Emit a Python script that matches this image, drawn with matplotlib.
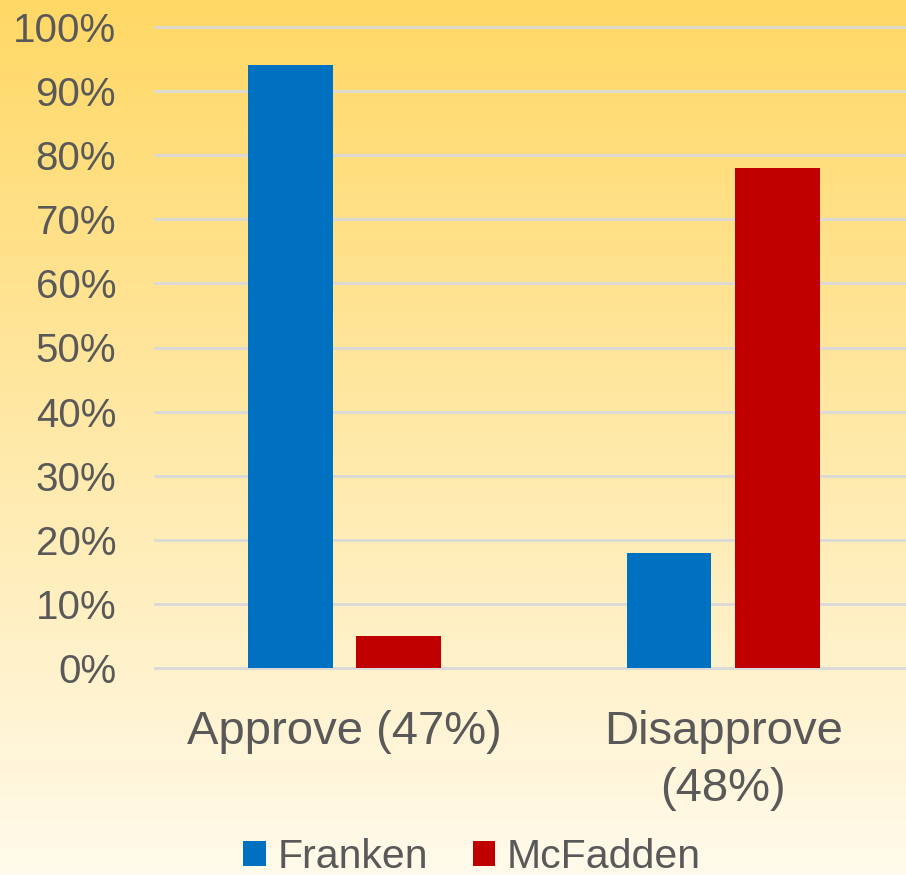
import numpy as np
import matplotlib.pyplot as plt
from matplotlib.colors import LinearSegmentedColormap

categories = ['Approve (47%)', 'Disapprove\n(48%)']
franken = [0.94, 0.18]
mcfadden = [0.05, 0.78]
yticks = [0.0, 0.1, 0.2, 0.3, 0.4, 0.5, 0.6, 0.7, 0.8, 0.9, 1.0]

plt.rcParams['font.family'] = ['Liberation Sans', 'DejaVu Sans']
text_color = '#595959'

fig = plt.figure(figsize=(9.06, 8.75), dpi=100)

# gradient background
bg = fig.add_axes([0, 0, 1, 1], zorder=0)
cmap = LinearSegmentedColormap.from_list('bg', ['#FFD865', '#FFE9A8', '#FFFAEB'])
grad = np.linspace(0, 1, 256).reshape(-1, 1)
bg.imshow(grad, aspect='auto', cmap=cmap, extent=[0, 1, 0, 1])
bg.axis('off')

ax = fig.add_axes([155 / 906, 207 / 875, 751 / 906, 641 / 875], zorder=1)
ax.patch.set_alpha(0)

x = np.arange(len(categories))
w = 0.224
off = 0.143
ax.bar(x - off, franken, w, color='#0070C0', label='Franken', zorder=3)
ax.bar(x + off, mcfadden, w, color='#C00000', label='McFadden', zorder=3)

ax.set_xlim(-0.5, 1.483)
ax.set_ylim(0, 1)
ax.set_yticks(yticks)
ax.set_yticklabels([f'{int(round(v * 100))}%' for v in yticks])
ax.yaxis.grid(True, color='#D9D9D9', linewidth=2, zorder=0)
for gl in ax.get_ygridlines():
    gl.set_clip_on(False)
ax.set_axisbelow(True)
for s in ax.spines.values():
    s.set_visible(False)
ax.tick_params(axis='y', length=0, labelsize=29, labelcolor=text_color, pad=28)
ax.set_xticks(x)
ax.set_xticklabels(categories, linespacing=1.38)
ax.tick_params(axis='x', length=0, labelsize=34, labelcolor=text_color, pad=30)

fig.legend(loc='lower center', bbox_to_anchor=(472 / 906, -0.043), ncol=2,
           frameon=False, fontsize=29.5, labelcolor=text_color,
           handlelength=0.55, handleheight=0.55, handletextpad=0.28,
           columnspacing=1.1)

fig.savefig('out.png', dpi=100)
